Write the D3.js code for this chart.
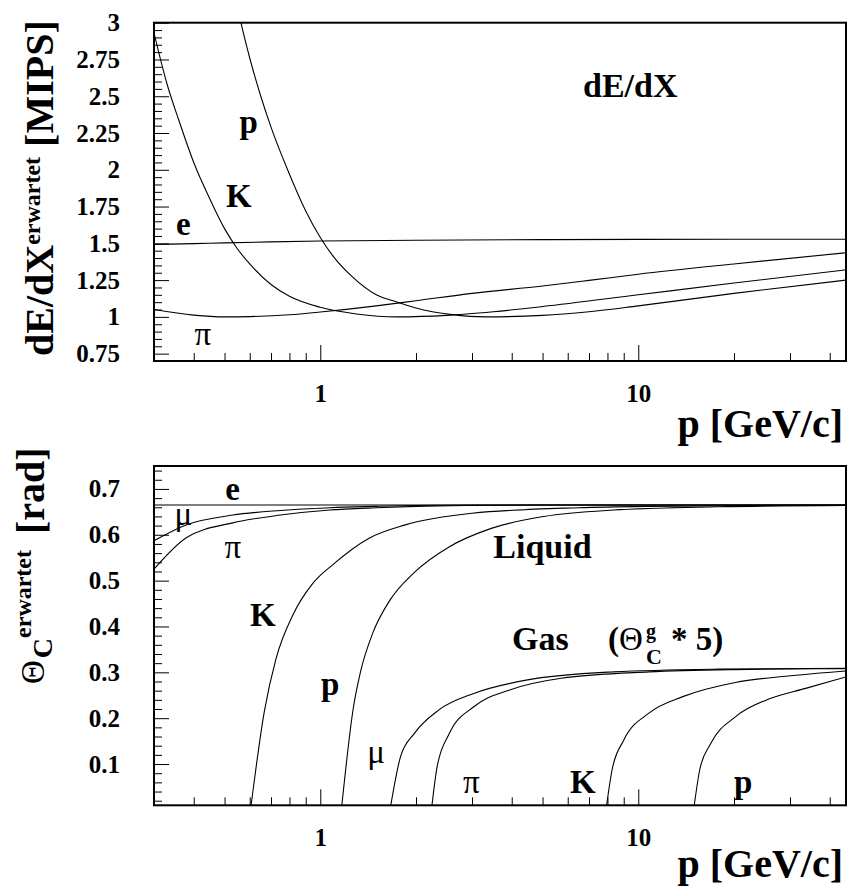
<!DOCTYPE html>
<html>
<head>
<meta charset="utf-8">
<script src="https://cdn.jsdelivr.net/npm/d3@7"></script>
<style>
  body { margin: 0; background: #fff; }
  svg text { font-family: "Liberation Serif", "Times New Roman", serif; fill: #000; }
  .axis path { display: none; }
  .axis line { stroke: #000; stroke-width: 1; }
  .axis text { font-size: 25px; font-weight: bold; font-family: "Liberation Serif", serif; }
  .curve { fill: none; stroke: #000; stroke-width: 1.1; }
</style>
</head>
<body>
<div id="chart"></div>
<script>
// momentum axis (GeV/c), log scale
const pMajor = [1, 10];
const pMinor = [0.4, 0.5, 0.6, 0.7, 0.8, 0.9, 2, 3, 4, 5, 6, 7, 8, 9, 20, 30, 40];

// top panel: dE/dX in MIPS
const dedxMajor = [0.75, 1, 1.25, 1.5, 1.75, 2, 2.25, 2.5, 2.75, 3];

const momE = [0.3, 0.4, 0.5, 0.7, 1, 2, 5, 10, 20, 45];
const dedxE = [1.492, 1.498, 1.503, 1.51, 1.516, 1.521, 1.525, 1.527, 1.528, 1.528];

const momPi = [0.3, 0.4, 0.5, 0.6, 0.8, 1, 1.5, 2, 3, 5, 7, 10, 20, 45];
const dedxPi = [1.05, 1.012, 1.0, 1.002, 1.014, 1.033, 1.075, 1.11, 1.16, 1.21, 1.248, 1.29, 1.36, 1.436];

const momK = [0.3, 0.33, 0.36, 0.4, 0.45, 0.5, 0.55, 0.6, 0.7, 0.8, 1.0, 1.3, 1.74, 2.5, 3.5, 5, 10, 20, 45];
const dedxK = [2.93, 2.58, 2.33, 2.05, 1.80, 1.60, 1.46, 1.36, 1.22, 1.14, 1.065, 1.02, 1.0, 1.01, 1.035, 1.07, 1.15, 1.23, 1.32];

const momP = [0.55, 0.563, 0.6, 0.65, 0.7, 0.8, 0.9, 1.0, 1.1, 1.25, 1.5, 1.75, 2.0, 2.6, 3.3, 5, 7, 10, 20, 45];
const dedxP = [3.1, 3.0, 2.76, 2.5, 2.29, 1.97, 1.72, 1.54, 1.41, 1.28, 1.15, 1.10, 1.06, 1.015, 1.0, 1.01, 1.035, 1.075, 1.16, 1.25];

// bottom panel: Cherenkov angle (rad), liquid and gas (x5)
const thetaMajor = [0.1, 0.2, 0.3, 0.4, 0.5, 0.6, 0.7];

const momLiqE = [0.3, 1, 10, 45];
const thetaLiqE = [0.665, 0.665, 0.665, 0.665];

const momLiqMu = [0.3, 0.38, 0.53, 0.75, 1.07, 1.5, 2, 3, 5, 10, 45];
const thetaLiqMu = [0.587, 0.622, 0.643, 0.653, 0.659, 0.662, 0.664, 0.665, 0.665, 0.665, 0.665];

const momLiqPi = [0.3, 0.38, 0.53, 0.75, 1.07, 1.5, 2, 3, 5, 10, 45];
const thetaLiqPi = [0.525, 0.594, 0.626, 0.643, 0.654, 0.659, 0.662, 0.664, 0.665, 0.665, 0.665];

const momLiqK = [0.606, 0.667, 0.726, 0.82, 0.95, 1.1, 1.42, 1.84, 3.0, 6.5, 10.8, 45];
const thetaLiqK = [0.01, 0.215, 0.33, 0.425, 0.495, 0.536, 0.592, 0.621, 0.647, 0.659, 0.662, 0.665];

const momLiqP = [1.169, 1.272, 1.337, 1.461, 1.658, 1.977, 2.548, 3.45, 5.05, 8.36, 17.9, 45];
const thetaLiqP = [0.01, 0.225, 0.3, 0.385, 0.458, 0.518, 0.574, 0.614, 0.64, 0.654, 0.661, 0.664];

const momGasMu = [1.666, 1.788, 1.977, 2.36, 3.04, 4.44, 8.36, 17.9, 45];
const thetaGasMu = [0.01, 0.116, 0.167, 0.218, 0.254, 0.283, 0.301, 0.307, 0.309];

const momGasPi = [2.245, 2.33, 2.548, 3.04, 3.92, 5.72, 10.8, 20, 45];
const thetaGasPi = [0.01, 0.094, 0.167, 0.225, 0.261, 0.287, 0.301, 0.306, 0.308];

const momGasK = [7.95, 8.27, 9.0, 10.8, 13.8, 20.2, 29.6, 45];
const thetaGasK = [0.01, 0.087, 0.152, 0.211, 0.247, 0.278, 0.292, 0.303];

const momGasP = [15.0, 15.6, 16.9, 20.2, 26.0, 33.6, 45];
const thetaGasP = [0.01, 0.087, 0.145, 0.203, 0.243, 0.265, 0.29];

const W = 848, H = 891;
const left = 154, right = 846;

const svg = d3.select("#chart").append("svg")
  .attr("width", W)
  .attr("height", H);

const x = d3.scaleLog().domain([0.3, 45]).range([left, right]);

const zip = (a, b) => a.map((v, i) => [v, b[i]]);

function drawPanel(id, top, bottom, yDomain, yMajor, yMinor, series) {
  const y = d3.scaleLinear().domain(yDomain).range([bottom, top]);
  const g = svg.append("g");

  g.append("clipPath").attr("id", "clip-" + id)
    .append("rect")
    .attr("x", left).attr("y", top)
    .attr("width", right - left).attr("height", bottom - top);

  // x ticks, drawn inwards
  g.append("g").attr("class", "axis")
    .attr("transform", `translate(0,${bottom})`)
    .call(d3.axisBottom(x).tickValues(pMinor).tickSize(-8).tickFormat(""));
  g.append("g").attr("class", "axis")
    .attr("transform", `translate(0,${bottom})`)
    .call(d3.axisBottom(x).tickValues(pMajor).tickSize(-16).tickPadding(23)
      .tickFormat(d3.format("d")));

  // y ticks
  g.append("g").attr("class", "axis")
    .attr("transform", `translate(${left},0)`)
    .call(d3.axisLeft(y).tickValues(yMinor).tickSize(-8).tickFormat(""));
  g.append("g").attr("class", "axis")
    .attr("transform", `translate(${left},0)`)
    .call(d3.axisLeft(y).tickValues(yMajor).tickSize(-15).tickPadding(34)
      .tickFormat((d) => String(d)));

  const line = d3.line()
    .x((d) => x(d[0]))
    .y((d) => y(d[1]))
    .curve(d3.curveMonotoneX);

  g.append("g")
    .attr("clip-path", `url(#clip-${id})`)
    .selectAll("path")
    .data(series)
    .enter()
    .append("path")
    .attr("class", "curve")
    .attr("d", (d) => line(d));

  // frame
  g.append("rect")
    .attr("x", left).attr("y", top)
    .attr("width", right - left).attr("height", bottom - top)
    .attr("fill", "none")
    .attr("stroke", "#000")
    .attr("stroke-width", 2);

  return { g, y };
}

// ---- top panel ----
const topMinor = d3.range(0.7, 3.0001, 0.05)
  .map((d) => +d.toFixed(2))
  .filter((d) => !dedxMajor.includes(d));

const topPanel = drawPanel("top", 22.7, 361, [0.7, 3], dedxMajor, topMinor, [
  zip(momE, dedxE),
  zip(momPi, dedxPi),
  zip(momK, dedxK),
  zip(momP, dedxP),
]);

// ---- bottom panel ----
const botMinor = d3.range(0.02, 0.75, 0.02)
  .map((d) => +d.toFixed(2))
  .filter((d) => !thetaMajor.includes(d));

const botPanel = drawPanel("bot", 466, 805.3, [0.01, 0.75], thetaMajor, botMinor, [
  zip(momLiqE, thetaLiqE),
  zip(momLiqMu, thetaLiqMu),
  zip(momLiqPi, thetaLiqPi),
  zip(momLiqK, thetaLiqK),
  zip(momLiqP, thetaLiqP),
  zip(momGasMu, thetaGasMu),
  zip(momGasPi, thetaGasPi),
  zip(momGasK, thetaGasK),
  zip(momGasP, thetaGasP),
]);

// curve labels, anchored in data coordinates
function label(panel, txt, p, v, opts = {}) {
  return panel.g.append("text")
    .attr("x", x(p) + (opts.dx || 0))
    .attr("y", panel.y(v))
    .attr("font-size", opts.size || 33)
    .attr("font-weight", opts.normal ? "normal" : "bold")
    .text(txt);
}

label(topPanel, "p", 0.557, 2.248);
label(topPanel, "K", 0.5056, 1.749);
label(topPanel, "e", 0.352, 1.557);
label(topPanel, "\u03c0", 0.402, 0.809, { normal: true });
label(topPanel, "dE/dX", 6.7, 2.497, { size: 34 });

label(botPanel, "e", 0.503, 0.676);
label(botPanel, "\u03bc", 0.348, 0.621, { normal: true });
label(botPanel, "\u03c0", 0.5, 0.549, { normal: true });
label(botPanel, "K", 0.6016, 0.40);
label(botPanel, "p", 1.005, 0.25);
label(botPanel, "Liquid", 3.5, 0.549, { size: 34 });
label(botPanel, "Gas", 4.01, 0.349, { size: 34 });
label(botPanel, "\u03bc", 1.405, 0.102, { normal: true });
label(botPanel, "\u03c0", 2.81, 0.037, { normal: true });
label(botPanel, "K", 6.1, 0.037);
label(botPanel, "p", 20.0, 0.037);

// (Theta_C^g * 5) as one text with stacked sup/sub
const gasBase = botPanel.y(0.349);
const gx = x(8.03);
const gt = botPanel.g.append("text").attr("x", gx).attr("y", gasBase).attr("font-size", 33);
gt.append("tspan").attr("font-weight", "bold").text("(");
gt.append("tspan").attr("font-weight", "normal").text("\u0398");
gt.append("tspan").attr("x", gx + 38).attr("y", gasBase - 12)
  .attr("font-size", 20).attr("font-weight", "bold").text("g");
gt.append("tspan").attr("x", gx + 38).attr("y", gasBase + 14)
  .attr("font-size", 22).attr("font-weight", "bold").text("C");
gt.append("tspan").attr("x", gx + 63).attr("y", gasBase)
  .attr("font-weight", "bold").text("* 5)");

// x-axis titles
[437, 877].forEach((yy) => {
  svg.append("text")
    .attr("x", 843).attr("y", yy)
    .attr("text-anchor", "end")
    .attr("font-size", 40)
    .attr("font-weight", "bold")
    .text("p [GeV/c]");
});

// y-axis titles
const yt1 = svg.append("text")
  .attr("transform", "translate(53,356) rotate(-90)")
  .attr("font-size", 40)
  .attr("font-weight", "bold");
yt1.append("tspan").text("dE/dX");
yt1.append("tspan").attr("font-size", 24).attr("dy", -13).text("erwartet");
yt1.append("tspan").attr("dy", 13).text(" [MIPS]");

const yt2 = svg.append("text")
  .attr("transform", "translate(44,684) rotate(-90)")
  .attr("font-size", 40)
  .attr("font-weight", "bold");
yt2.append("tspan").attr("font-weight", "normal").attr("font-size", 33).text("\u0398");
yt2.append("tspan").attr("font-size", 28).attr("dx", 2).attr("dy", 8).text("C");
yt2.append("tspan").attr("font-size", 24).attr("dy", -21).text("erwartet");
yt2.append("tspan").attr("dx", 16).attr("dy", 13).text("[rad]");
</script>
</body>
</html>
